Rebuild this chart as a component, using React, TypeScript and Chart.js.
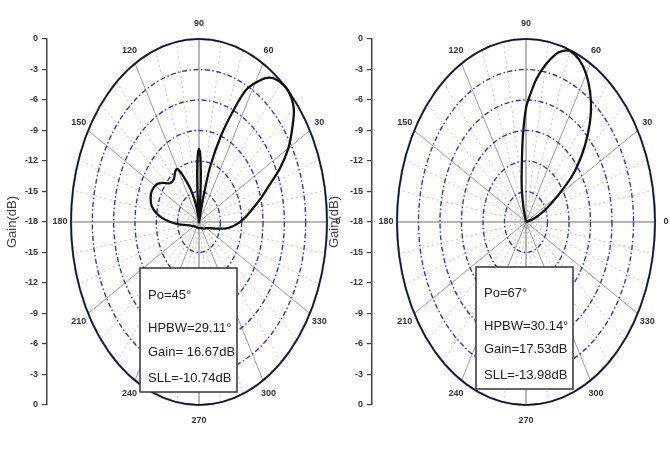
import React, { useEffect, useRef } from "react";
import { Chart, registerables } from "chart.js";

Chart.register(...registerables);

// ---------- data ----------
const MIN_DB = -18;
const MAX_DB = 0;
const GAIN_STEP = 3;
const RING_LEVELS = [-15, -12, -9, -6, -3];
const ANGLE_LABELS = [0, 30, 60, 90, 120, 150, 180, 210, 240, 270, 300, 330];
const MINOR_SPOKES = [10, 20, 40, 50, 70, 80, 100, 110, 130, 140, 160, 170, 190, 200, 220, 230, 250, 260, 280, 290, 310, 320, 340, 350];

// Po = 45°
const LEFT_ANGLES = [
  0, 5, 10, 15, 20, 25, 30, 35, 40, 46, 52, 56, 60, 63, 66, 70, 74, 76, 78,
  84, 86, 88, 90, 92, 94, 96,
  100, 105, 110, 114, 118, 121, 125, 130, 137, 143, 148, 155, 161, 167, 172, 176, 180,
  185, 190, 200, 220, 240, 270, 300, 320, 330, 340, 345, 350, 355, 360,
];
const LEFT_GAIN = [
  -12.2, -11.3, -10.3, -9.0, -7.5, -5.4, -3.5, -2.0, -0.6, 0, -0.25, -0.9, -2.2, -3.4, -5.8, -9.0, -12.4, -15.5, -18,
  -18, -14.5, -11.8, -10.8, -11.8, -14.5, -18,
  -17.5, -16.0, -14.6, -13.6, -12.4, -11.9, -12.1, -12.5, -12.4, -11.6, -11.0, -10.7, -10.8, -11.2, -12.0, -12.9, -14.0,
  -15.2, -16.2, -16.9, -17.3, -17.4, -17.4, -17.3, -17.0, -16.8, -16.2, -15.5, -14.3, -13.2, -12.2,
];
const LEFT_INFO = ["Po=45°", "HPBW=29.11°", "Gain= 16.67dB", "SLL=-10.74dB"];

// Po = 67°
const RIGHT_ANGLES = [
  0, 10, 15, 20, 25, 30, 35, 40, 45, 50, 55, 60, 65, 70, 73, 76, 80, 84, 87, 90, 93, 96, 100, 104, 108,
  180, 270, 360,
];
const RIGHT_GAIN = [
  -18, -18, -17.2, -16.2, -14.8, -13.0, -10.2, -7.9, -5.8, -3.9, -2.4, -1.2, -0.4, -0.1, -0.4, -1.0, -2.3, -3.8, -5.3, -6.8, -9.6, -12.4, -14.6, -16.5, -18,
  -18, -18, -18,
];
const RIGHT_INFO = ["Po=67°", "HPBW=30.14°", "Gain=17.53dB", "SLL=-13.98dB"];

// ---------- helpers ----------
const FONT = "'Liberation Sans Narrow', 'Liberation Sans', Arial, sans-serif";
const RANGE = MAX_DB - MIN_DB;

function toXY(angles: number[], gains: number[]) {
  return angles.map((a, i) => {
    const r = Math.max(Math.min(gains[i], MAX_DB) - MIN_DB, 0);
    const t = (a * Math.PI) / 180;
    return { x: r * Math.cos(t), y: r * Math.sin(t) };
  });
}

type Layout = {
  left: number;
  width: number;
  height: number;
  axisX: number;
  cx: number;
  rx: number;
  padTop: number;
  padBottom: number;
  box: { dx: number; dy: number; w: number; h: number };
};

function makePolarPlugin(info: string[], box: Layout["box"]) {
  return {
    id: "polarGrid",
    beforeDatasetsDraw(chart: any) {
      const xs = chart.scales.x;
      const ys = chart.scales.y;
      const ctx = chart.ctx as CanvasRenderingContext2D;
      const cx = xs.getPixelForValue(0);
      const cy = ys.getPixelForValue(0);
      const pt = (r: number, deg: number) => {
        const t = (deg * Math.PI) / 180;
        return [xs.getPixelForValue(r * Math.cos(t)), ys.getPixelForValue(r * Math.sin(t))];
      };
      ctx.save();
      // minor spokes
      ctx.strokeStyle = "rgba(150,150,150,0.55)";
      ctx.lineWidth = 1;
      ctx.setLineDash([2, 3]);
      for (const d of MINOR_SPOKES) {
        const [x, y] = pt(RANGE, d);
        ctx.beginPath();
        ctx.moveTo(cx, cy);
        ctx.lineTo(x, y);
        ctx.stroke();
      }
      // major spokes
      ctx.setLineDash([]);
      for (const d of ANGLE_LABELS) {
        const [x, y] = pt(RANGE, d);
        ctx.strokeStyle = d % 90 === 0 ? "#6f6f6f" : "#9c9c9c";
        ctx.lineWidth = 1;
        ctx.beginPath();
        ctx.moveTo(cx, cy);
        ctx.lineTo(x, y);
        ctx.stroke();
      }
      // rings
      ctx.strokeStyle = "#3535d0";
      ctx.lineWidth = 1.4;
      ctx.setLineDash([5, 2.5, 1.5, 2.5]);
      for (const lv of RING_LEVELS) {
        const r = lv - MIN_DB;
        const erx = xs.getPixelForValue(r) - cx;
        const ery = cy - ys.getPixelForValue(r);
        ctx.beginPath();
        ctx.ellipse(cx, cy, erx, ery, 0, 0, Math.PI * 2);
        ctx.stroke();
      }
      // outer ring
      ctx.setLineDash([]);
      const orx = xs.getPixelForValue(RANGE) - cx;
      const ory = cy - ys.getPixelForValue(RANGE);
      ctx.strokeStyle = "rgba(60,60,200,0.8)";
      ctx.lineWidth = 2.2;
      ctx.beginPath();
      ctx.ellipse(cx, cy, orx, ory, 0, 0, Math.PI * 2);
      ctx.stroke();
      ctx.strokeStyle = "#151515";
      ctx.lineWidth = 1.4;
      ctx.beginPath();
      ctx.ellipse(cx, cy, orx, ory, 0, 0, Math.PI * 2);
      ctx.stroke();
      // angle labels
      ctx.fillStyle = "#333";
      ctx.font = `bold 9px ${FONT}`;
      ctx.textAlign = "center";
      ctx.textBaseline = "middle";
      for (const d of ANGLE_LABELS) {
        const [x, y] = pt(RANGE * 1.085, d);
        ctx.fillText(String(d), x, y);
      }
      ctx.restore();
    },
    afterDatasetsDraw(chart: any) {
      const xs = chart.scales.x;
      const ys = chart.scales.y;
      const ctx = chart.ctx as CanvasRenderingContext2D;
      const cx = xs.getPixelForValue(0);
      const cy = ys.getPixelForValue(0);
      const bx = cx + box.dx;
      const by = cy + box.dy;
      ctx.save();
      ctx.fillStyle = "#ffffff";
      ctx.fillRect(bx, by, box.w, box.h);
      ctx.strokeStyle = "#333";
      ctx.lineWidth = 1.5;
      ctx.strokeRect(bx, by, box.w, box.h);
      ctx.fillStyle = "#222";
      ctx.font = `13px ${FONT}`;
      ctx.textAlign = "left";
      ctx.textBaseline = "middle";
      const offs = [27, 60, 84, 110];
      info.forEach((t, i) => ctx.fillText(t, bx + 8, by + offs[i] * (box.h / 124)));
      ctx.restore();
    },
  };
}

function PolarPanel({ layout, angles, gains, info }: { layout: Layout; angles: number[]; gains: number[]; info: string[] }) {
  const ref = useRef<HTMLCanvasElement>(null);
  useEffect(() => {
    const canvas = ref.current;
    if (!canvas) return;
    const unit = layout.rx / RANGE;
    const xMin = -(layout.cx - layout.axisX) / unit;
    const xMax = (layout.width - layout.cx) / unit;
    const chart = new Chart(canvas, {
      type: "scatter",
      data: {
        datasets: [
          {
            data: toXY(angles, gains),
            showLine: true,
            borderColor: "#111",
            borderWidth: 2.3,
            pointRadius: 0,
            tension: 0.3,
            fill: false,
          } as any,
        ],
      },
      options: {
        responsive: false,
        animation: false,
        layout: { padding: { top: layout.padTop, bottom: layout.padBottom, left: 0, right: 0 } },
        plugins: { legend: { display: false }, tooltip: { enabled: false } },
        scales: {
          x: { type: "linear", display: false, min: xMin, max: xMax },
          y: {
            type: "linear",
            position: "left",
            min: MIN_DB,
            max: -MIN_DB,
            afterFit: (s: any) => {
              s.width = layout.axisX;
            },
            border: { display: true, color: "#444", width: 1.5 },
            grid: { display: true, drawOnChartArea: false, drawTicks: true, tickLength: 5, color: "#444", lineWidth: 1.2 },
            ticks: {
              stepSize: GAIN_STEP,
              padding: 4,
              color: "#333",
              font: { size: 9, weight: "bold", family: FONT },
              callback: (v: any) => String(Math.abs(Number(v)) + MIN_DB),
            },
            title: {
              display: true,
              text: "Gain(dB)",
              color: "#444",
              font: { size: 13, family: "'Liberation Sans', Arial, sans-serif" },
              padding: { top: 5, bottom: 0 },
            },
          } as any,
        },
      },
      plugins: [makePolarPlugin(info, layout.box) as any],
    });
    return () => chart.destroy();
  }, []);
  return (
    <canvas
      ref={ref}
      width={layout.width}
      height={layout.height}
      style={{ position: "absolute", left: layout.left, top: 0, width: layout.width, height: layout.height }}
    />
  );
}

const LEFT_LAYOUT: Layout = {
  left: 0,
  width: 340,
  height: 450,
  axisX: 47,
  cx: 199,
  rx: 128,
  padTop: 39,
  padBottom: 45,
  box: { dx: -59, dy: 46, w: 97, h: 124 },
};
const RIGHT_LAYOUT: Layout = {
  left: 322,
  width: 348,
  height: 450,
  axisX: 50,
  cx: 204,
  rx: 129,
  padTop: 39,
  padBottom: 45,
  box: { dx: -50, dy: 45, w: 97, h: 122 },
};

export default function App() {
  return (
    <div style={{ position: "absolute", left: 0, top: 0, width: 670, height: 450, background: "#fff", overflow: "hidden" }}>
      <PolarPanel layout={LEFT_LAYOUT} angles={LEFT_ANGLES} gains={LEFT_GAIN} info={LEFT_INFO} />
      <PolarPanel layout={RIGHT_LAYOUT} angles={RIGHT_ANGLES} gains={RIGHT_GAIN} info={RIGHT_INFO} />
    </div>
  );
}
